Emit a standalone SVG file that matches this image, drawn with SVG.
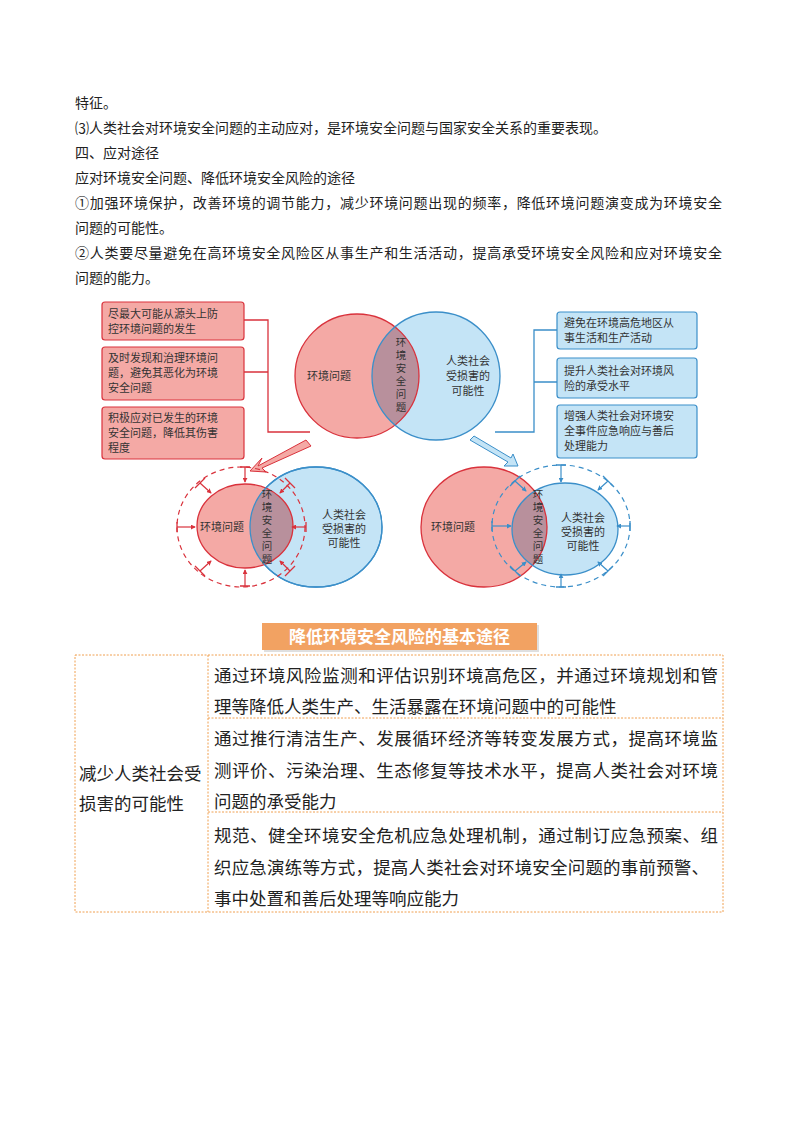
<svg xmlns="http://www.w3.org/2000/svg" width="800" height="1132" viewBox="0 0 800 1132">
<style>
text{font-family:"Noto Sans CJK SC","Liberation Sans",sans-serif;fill:#222}
.p{font-size:14px}
.s{font-size:11px;fill:#333}
.v{font-size:10.5px;fill:#333}
.rb{fill:#f4a9a5;stroke:#d9323c;stroke-width:1.2}
.bb{fill:#c4e4f6;stroke:#3b8fc9;stroke-width:1.2}
.rl{fill:none;stroke:#d9323c;stroke-width:1.3}
.bl{fill:none;stroke:#3b8fc9;stroke-width:1.3}
.ra{fill:none;stroke:#d9323c;stroke-width:1.2;marker-end:url(#ar)}
.ba{fill:none;stroke:#3b8fc9;stroke-width:1.2;marker-end:url(#ab)}
.t{font-size:17.5px}
.g{fill:none;stroke:#f0a050;stroke-width:1;stroke-dasharray:2 1.5}
</style>
<defs>
<marker id="ar" viewBox="0 0 6 6" refX="5" refY="3" markerWidth="5" markerHeight="5" orient="auto" markerUnits="userSpaceOnUse"><path d="M0,0L6,3L0,6z" fill="#d9323c"/></marker>
<marker id="ab" viewBox="0 0 6 6" refX="5" refY="3" markerWidth="5" markerHeight="5" orient="auto" markerUnits="userSpaceOnUse"><path d="M0,0L6,3L0,6z" fill="#3b8fc9"/></marker>
</defs>
<rect width="800" height="1132" fill="#fff"/>
<g id="intro">
<text class="p" x="75" y="108">特征。</text>
<text class="p" x="75" y="133">⑶人类社会对环境安全问题的主动应对，是环境安全问题与国家安全关系的重要表现。</text>
<text class="p" x="75" y="158">四、应对途径</text>
<text class="p" x="75" y="183">应对环境安全问题、降低环境安全风险的途径</text>
<text class="p" x="75" y="208" textLength="647">①加强环境保护，改善环境的调节能力，减少环境问题出现的频率，降低环境问题演变成为环境安全</text>
<text class="p" x="75" y="233">问题的可能性。</text>
<text class="p" x="75" y="258" textLength="647">②人类要尽量避免在高环境安全风险区从事生产和生活活动，提高承受环境安全风险和应对环境安全</text>
<text class="p" x="75" y="283">问题的能力。</text>
</g>
<g id="connectors">
<path class="rl" d="M244,320H268V432H310M244,372H268"/>
<path class="bl" d="M557,330H534V432H495M557,382H534"/>
<path d="M306,440L258,466L262,458L250,471L266,472L262,468L311,446Z" fill="#f4a9a5" stroke="#d9323c"/>
<path d="M470,440L508,462L504,466L518,466L513,454L511,458L474,436Z" fill="#c4e4f6" stroke="#3b8fc9"/>
</g>
<g id="left-boxes">
<rect class="rb" x="102" y="302" width="142" height="38" rx="3"/>
<text class="s" x="108" y="318">尽最大可能从源头上防</text><text class="s" x="108" y="333">控环境问题的发生</text>
<rect class="rb" x="102" y="347" width="142" height="53" rx="3"/>
<text class="s" x="108" y="362">及时发现和治理环境问</text><text class="s" x="108" y="377">题，避免其恶化为环境</text><text class="s" x="108" y="392">安全问题</text>
<rect class="rb" x="102" y="407" width="142" height="52" rx="3"/>
<text class="s" x="108" y="422">积极应对已发生的环境</text><text class="s" x="108" y="437">安全问题，降低其伤害</text><text class="s" x="108" y="452">程度</text>
</g>
<g id="right-boxes">
<rect class="bb" x="557" y="312" width="140" height="37" rx="3"/>
<text class="s" x="564" y="327">避免在环境高危地区从</text><text class="s" x="564" y="342">事生活和生产活动</text>
<rect class="bb" x="557" y="358" width="140" height="40" rx="3"/>
<text class="s" x="564" y="375">提升人类社会对环境风</text><text class="s" x="564" y="390">险的承受水平</text>
<rect class="bb" x="557" y="405" width="140" height="53" rx="3"/>
<text class="s" x="564" y="420">增强人类社会对环境安</text><text class="s" x="564" y="435">全事件应急响应与善后</text><text class="s" x="564" y="450">处理能力</text>
</g>
<g id="venn-top">
<clipPath id="c1"><circle cx="357" cy="376" r="62"/></clipPath>
<circle cx="357" cy="376" r="62" fill="#f4a9a5"/>
<circle cx="436" cy="376" r="64" fill="#c4e4f6"/>
<circle cx="436" cy="376" r="64" fill="#b8909c" clip-path="url(#c1)"/>
<circle cx="357" cy="376" r="62" fill="none" stroke="#d9323c" stroke-width="1.3"/>
<circle cx="436" cy="376" r="64" fill="none" stroke="#3b8fc9" stroke-width="1.3"/>
<text class="s" x="307" y="380">环境问题</text>
<text class="v" x="401" y="346" text-anchor="middle">环</text><text class="v" x="401" y="359" text-anchor="middle">境</text><text class="v" x="401" y="372" text-anchor="middle">安</text><text class="v" x="401" y="385" text-anchor="middle">全</text><text class="v" x="401" y="398" text-anchor="middle">问</text><text class="v" x="401" y="411" text-anchor="middle">题</text>
<text class="s" x="468" y="365" text-anchor="middle">人类社会</text><text class="s" x="468" y="380" text-anchor="middle">受损害的</text><text class="s" x="468" y="395" text-anchor="middle">可能性</text>
</g>
<g id="venn-left">
<clipPath id="c2"><ellipse cx="245" cy="526" rx="48" ry="42"/></clipPath>
<ellipse cx="316" cy="527" rx="66" ry="60" fill="#c4e4f6" stroke="#3b8fc9" stroke-width="1.3"/>
<ellipse cx="245" cy="526" rx="48" ry="42" fill="#f4a9a5"/>
<ellipse cx="316" cy="527" rx="66" ry="60" fill="#b8909c" clip-path="url(#c2)"/>
<ellipse cx="245" cy="526" rx="48" ry="42" fill="none" stroke="#d9323c" stroke-width="1.3"/>
<ellipse cx="316" cy="527" rx="66" ry="60" fill="none" stroke="#3b8fc9" stroke-width="1.3"/>
<ellipse cx="241" cy="527" rx="64" ry="60" fill="none" stroke="#d9323c" stroke-width="1.2" stroke-dasharray="5 4"/>
<path class="ra" d="M245,467V482"/><path class="ra" d="M245,586V570"/><path class="ra" d="M177,527H195"/><path class="ra" d="M306,527H292"/>
<path class="ra" d="M200,483L211,493"/><path class="ra" d="M200,571L211,561"/><path class="ra" d="M290,483L280,493"/><path class="ra" d="M290,571L280,561"/>
<path class="rl" d="M240,467H250M240,586H250M177,522V532M306,522V532M195,488L205,478M195,566L205,576M285,478L295,488M285,576L295,566"/>
<text class="s" x="200" y="531">环境问题</text>
<text class="v" x="267" y="498" text-anchor="middle">环</text><text class="v" x="267" y="511" text-anchor="middle">境</text><text class="v" x="267" y="524" text-anchor="middle">安</text><text class="v" x="267" y="537" text-anchor="middle">全</text><text class="v" x="267" y="550" text-anchor="middle">问</text><text class="v" x="267" y="563" text-anchor="middle">题</text>
<text class="s" x="344" y="519" text-anchor="middle">人类社会</text><text class="s" x="344" y="533" text-anchor="middle">受损害的</text><text class="s" x="344" y="547" text-anchor="middle">可能性</text>
</g>
<g id="venn-right">
<clipPath id="c3"><ellipse cx="484" cy="527" rx="63" ry="60"/></clipPath>
<ellipse cx="484" cy="527" rx="63" ry="60" fill="#f4a9a5"/>
<ellipse cx="565" cy="529" rx="53" ry="46" fill="#c4e4f6"/>
<ellipse cx="565" cy="529" rx="53" ry="46" fill="#b8909c" clip-path="url(#c3)"/>
<ellipse cx="484" cy="527" rx="63" ry="60" fill="none" stroke="#d9323c" stroke-width="1.3"/>
<ellipse cx="565" cy="529" rx="53" ry="46" fill="none" stroke="#3b8fc9" stroke-width="1.3"/>
<ellipse cx="561" cy="526" rx="69" ry="61" fill="none" stroke="#3b8fc9" stroke-width="1.2" stroke-dasharray="5 4"/>
<path class="ba" d="M561,465V482"/><path class="ba" d="M561,587V574"/><path class="ba" d="M492,526H511"/><path class="ba" d="M630,526H617"/>
<path class="ba" d="M515,481L526,491"/><path class="ba" d="M515,571L526,562"/><path class="ba" d="M608,481L598,490"/><path class="ba" d="M608,571L598,562"/>
<path class="bl" d="M556,465H566M556,587H566M492,521V531M630,521V531M510,486L520,476M510,566L520,576M603,476L613,486M603,576L613,566"/>
<text class="s" x="431" y="531">环境问题</text>
<text class="v" x="538" y="498" text-anchor="middle">环</text><text class="v" x="538" y="511" text-anchor="middle">境</text><text class="v" x="538" y="524" text-anchor="middle">安</text><text class="v" x="538" y="537" text-anchor="middle">全</text><text class="v" x="538" y="550" text-anchor="middle">问</text><text class="v" x="538" y="563" text-anchor="middle">题</text>
<text class="s" x="583" y="522" text-anchor="middle">人类社会</text><text class="s" x="583" y="536" text-anchor="middle">受损害的</text><text class="s" x="583" y="550" text-anchor="middle">可能性</text>
</g>
<g id="table">
<rect x="264" y="625" width="275" height="27" fill="#c9c9c9" opacity="0.6"/>
<rect x="262" y="623" width="275" height="27" fill="#f2a262"/>
<text x="399.5" y="643" text-anchor="middle" style="font-size:17px;font-weight:bold;fill:#fff">降低环境安全风险的基本途径</text>
<rect class="g" x="75" y="655" width="648" height="257"/>
<path class="g" d="M208,655V912M208,718H723M208,812H723"/>
<text class="t" x="79" y="780">减少人类社会受</text>
<text class="t" x="79" y="810">损害的可能性</text>
<text class="t" x="214" y="682" textLength="504">通过环境风险监测和评估识别环境高危区，并通过环境规划和管</text>
<text class="t" x="214" y="713">理等降低人类生产、生活暴露在环境问题中的可能性</text>
<text class="t" x="214" y="745" textLength="504">通过推行清洁生产、发展循环经济等转变发展方式，提高环境监</text>
<text class="t" x="214" y="777" textLength="504">测评价、污染治理、生态修复等技术水平，提高人类社会对环境</text>
<text class="t" x="214" y="808">问题的承受能力</text>
<text class="t" x="214" y="842" textLength="504">规范、健全环境安全危机应急处理机制，通过制订应急预案、组</text>
<text class="t" x="214" y="874" textLength="495">织应急演练等方式，提高人类社会对环境安全问题的事前预警、</text>
<text class="t" x="214" y="905">事中处置和善后处理等响应能力</text>
</g>
</svg>
